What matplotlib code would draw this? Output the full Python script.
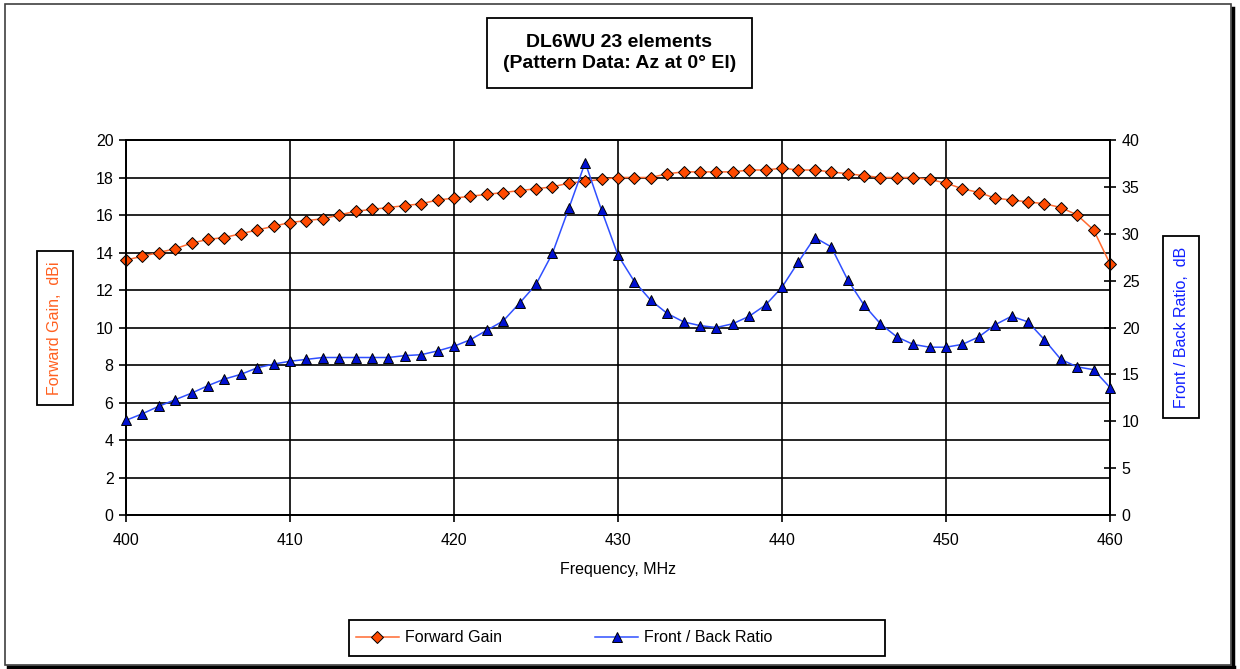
import matplotlib.pyplot as plt
from matplotlib.patches import Rectangle
from matplotlib.lines import Line2D

plt.rcParams['font.family'] = ['Liberation Sans', 'DejaVu Sans']

# datos
freq = list(range(400, 461))
gain = [13.6, 13.8, 14.0, 14.2, 14.5, 14.7, 14.8, 15.0, 15.2, 15.4,
        15.6, 15.7, 15.8, 16.0, 16.2, 16.3, 16.4, 16.5, 16.6, 16.8,
        16.9, 17.0, 17.1, 17.2, 17.3, 17.4, 17.5, 17.7, 17.8, 17.9,
        18.0, 18.0, 18.0, 18.2, 18.3, 18.3, 18.3, 18.3, 18.4, 18.4,
        18.5, 18.4, 18.4, 18.3, 18.2, 18.1, 18.0, 18.0, 18.0, 17.9,
        17.7, 17.4, 17.2, 16.9, 16.8, 16.7, 16.6, 16.4, 16.0, 15.2,
        13.4]
fb = [10.1, 10.8, 11.6, 12.3, 13.0, 13.8, 14.5, 15.0, 15.7, 16.1,
      16.4, 16.6, 16.8, 16.8, 16.8, 16.8, 16.8, 17.0, 17.1, 17.5,
      18.0, 18.7, 19.7, 20.7, 22.6, 24.6, 27.9, 32.7, 37.6, 32.5,
      27.7, 24.9, 22.9, 21.5, 20.6, 20.2, 20.0, 20.4, 21.2, 22.4,
      24.3, 27.0, 29.6, 28.6, 25.1, 22.4, 20.4, 19.0, 18.2, 17.9,
      17.9, 18.2, 19.0, 20.3, 21.2, 20.6, 18.7, 16.6, 15.8, 15.5,
      13.6]
xticks = [400, 410, 420, 430, 440, 450, 460]
yticks_left = list(range(0, 21, 2))
yticks_right = list(range(0, 41, 5))

W, H = 1240, 669
fig = plt.figure(figsize=(W / 100, H / 100), dpi=100)
ax = fig.add_axes([126 / W, 1 - 515 / H, (1110 - 126) / W, (515 - 140) / H])
ax2 = ax.twinx()

orange_line = '#FF6A30'
orange_face = '#FF4A00'
blue_line = '#2F4FFF'
blue_face = '#0010D0'

ax.plot(freq, gain, color=orange_line, lw=1.1, marker='D', ms=6,
        mfc=orange_face, mec='black', mew=0.7, zorder=3, clip_on=False)
ax2.plot(freq, fb, color=blue_line, lw=1.1, marker='^', ms=7.5,
         mfc=blue_face, mec='black', mew=0.7, zorder=3, clip_on=False)

ax.set_xlim(400, 460)
ax.set_ylim(0, 20)
ax2.set_ylim(0, 40)
ax.set_xticks(xticks)
ax.set_yticks(yticks_left)
ax2.set_yticks(yticks_right)
ax.grid(True, color='black', lw=1.2)
ax.set_axisbelow(True)

ax.tick_params(axis='both', direction='out', length=5, width=1.2,
               labelsize=11.5, pad=4)
ax.tick_params(axis='x', pad=8)
ax2.tick_params(axis='y', direction='inout', length=9, width=1.2,
                labelsize=11.5, pad=4)
for a in (ax, ax2):
    for s in a.spines.values():
        s.set_linewidth(1.3)
        s.set_color('black')

ax.set_xlabel('Frequency, MHz', fontsize=11.5, labelpad=10)

# titulo con recuadro
fig.text(619.5 / W, 1 - 53 / H, 'DL6WU 23 elements\n(Pattern Data: Az at 0° El)',
         ha='center', va='center', fontsize=14, fontweight='bold',
         linespacing=1.3,
         bbox=dict(boxstyle='square,pad=0.8', fc='white', ec='black', lw=1.3))

# etiquetas de ejes en recuadros
fig.text(55 / W, 1 - 328 / H, 'Forward Gain,  dBi', rotation=90,
         ha='center', va='center', fontsize=11.5, color='#FF6020',
         bbox=dict(boxstyle='square,pad=0.65', fc='white', ec='black', lw=1.3))
fig.text(1181 / W, 1 - 327 / H, 'Front / Back Ratio,  dB', rotation=90,
         ha='center', va='center', fontsize=11.5, color='#1020FF',
         bbox=dict(boxstyle='square,pad=0.65', fc='white', ec='black', lw=1.3))

# leyenda
fig.patches.append(Rectangle((349 / W, 1 - 656 / H), 536 / W, 36 / H,
                             transform=fig.transFigure, fill=False,
                             ec='black', lw=1.3))
handles = [Line2D([], [], color=orange_line, lw=1.1, marker='D', ms=6,
                  mfc=orange_face, mec='black', mew=0.7),
           Line2D([], [], color=blue_line, lw=1.1, marker='^', ms=7.5,
                  mfc=blue_face, mec='black', mew=0.7)]
fig.legend(handles, ['Forward Gain', 'Front / Back Ratio'], ncol=2,
           loc='center left', bbox_to_anchor=(351 / W, 1 - 638 / H),
           frameon=False, fontsize=11.5, handlelength=2.7,
           columnspacing=5.8, handletextpad=0.4, borderaxespad=0.0,
           borderpad=0.3)

# marco exterior con sombra
fig.patches.append(Rectangle((5 / W, 1 - 665 / H), 1226 / W, 661 / H,
                             transform=fig.transFigure, fill=False,
                             ec='#404040', lw=1.2))
fig.lines.append(Line2D([1233 / W, 1233 / W], [1 - 668 / H, 1 - 8 / H],
                        transform=fig.transFigure, color='black', lw=2.5))
fig.lines.append(Line2D([8 / W, 1234 / W], [1 - 667 / H, 1 - 667 / H],
                        transform=fig.transFigure, color='black', lw=2.5))

fig.savefig('out.png', dpi=100)
